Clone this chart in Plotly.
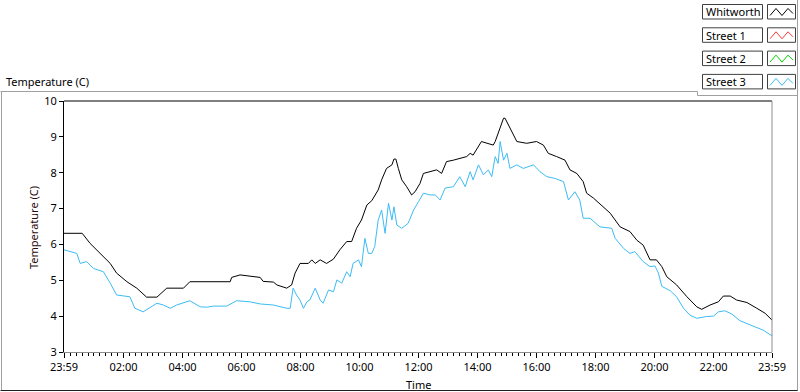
import plotly.graph_objects as go
from datetime import datetime, timedelta

# ---------------- data ----------------
series_names = ["Whitworth", "Street 1", "Street 2", "Street 3"]
series_colors = ["#000000", "#ff3a3a", "#00d800", "#3cbcf5"]

whitworth_times = [
    "23:59", "00:36", "00:52", "01:12", "01:33", "01:46", "02:07", "02:27", "02:47", "03:08",
    "03:28", "04:02", "04:15", "05:37", "05:40", "05:57", "06:38", "06:44", "07:05", "07:12",
    "07:32", "07:42", "07:49", "07:59", "08:16", "08:23", "08:30", "08:40", "08:53", "09:07",
    "09:20", "09:34", "09:44", "09:54", "10:04", "10:15", "10:25", "10:38", "10:45", "10:55",
    "11:06", "11:10", "11:14", "11:19", "11:26", "11:36", "11:46", "11:53", "12:03", "12:10",
    "12:27", "12:37", "12:47", "12:57", "13:11", "13:38", "13:45", "13:51", "14:08", "14:19",
    "14:32", "14:36", "14:46", "14:53", "14:56", "15:06", "15:20", "15:40", "16:00", "16:14",
    "16:24", "16:41", "16:58", "17:08", "17:22", "17:35", "17:42", "17:56", "18:16", "18:30",
    "18:50", "19:10", "19:24", "19:37", "19:51", "20:04", "20:15", "20:25", "20:45", "21:06",
    "21:26", "21:36", "21:53", "22:10", "22:20", "22:34", "22:47", "23:08", "23:28", "23:45",
    "23:59",
]
whitworth_temps = [
    6.31, 6.31, 6.03, 5.75, 5.47, 5.20, 4.96, 4.78, 4.53, 4.53,
    4.78, 4.78, 4.96, 4.96, 5.08, 5.15, 5.08, 4.97, 4.95, 4.87,
    4.78, 4.87, 5.20, 5.47, 5.47, 5.57, 5.47, 5.57, 5.47, 5.59,
    5.85, 6.08, 6.08, 6.45, 6.68, 7.10, 7.22, 7.52, 7.80, 8.12,
    8.22, 8.38, 8.38, 8.12, 7.80, 7.61, 7.38, 7.47, 7.70, 7.98,
    8.03, 8.08, 7.98, 8.31, 8.35, 8.45, 8.54, 8.49, 8.87, 8.82,
    8.77, 8.87, 9.24, 9.52, 9.52, 9.24, 8.87, 8.82, 8.87, 8.77,
    8.54, 8.45, 8.35, 8.08, 7.98, 7.75, 7.43, 7.29, 7.05, 6.87,
    6.49, 6.36, 6.12, 5.98, 5.57, 5.57, 5.38, 5.10, 4.87, 4.54,
    4.26, 4.19, 4.31, 4.40, 4.56, 4.56, 4.45, 4.38, 4.22, 4.08,
    3.89,
]

street1_times = []
street1_temps = []
street2_times = []
street2_temps = []

street3_times = [
    "23:59", "00:25", "00:32", "00:45", "00:59", "01:19", "01:33", "01:46", "02:13", "02:23",
    "02:40", "02:54", "03:08", "03:21", "03:35", "03:48", "04:15", "04:36", "04:49", "05:03",
    "05:30", "05:50", "06:17", "06:38", "07:05", "07:32", "07:39", "07:45", "07:52", "07:59",
    "08:06", "08:13", "08:19", "08:30", "08:40", "08:46", "08:57", "09:07", "09:14", "09:24",
    "09:34", "09:41", "09:47", "09:58", "10:04", "10:11", "10:18", "10:25", "10:31", "10:38",
    "10:45", "10:52", "10:59", "11:06", "11:10", "11:16", "11:26", "11:39", "11:50", "12:00",
    "12:10", "12:23", "12:34", "12:44", "12:54", "13:11", "13:24", "13:35", "13:45", "13:51",
    "14:02", "14:12", "14:22", "14:29", "14:36", "14:42", "14:46", "14:53", "15:00", "15:06",
    "15:20", "15:33", "15:54", "16:07", "16:21", "16:38", "16:55", "17:05", "17:18", "17:28",
    "17:35", "17:49", "18:09", "18:33", "18:40", "18:57", "19:10", "19:20", "19:37", "19:51",
    "20:01", "20:08", "20:15", "20:32", "20:45", "20:59", "21:12", "21:26", "21:46", "22:00",
    "22:10", "22:23", "22:37", "22:54", "23:14", "23:41", "23:59",
]
street3_temps = [
    5.85, 5.75, 5.47, 5.52, 5.33, 5.24, 4.92, 4.59, 4.54, 4.22,
    4.12, 4.25, 4.36, 4.31, 4.22, 4.31, 4.43, 4.26, 4.25, 4.28,
    4.28, 4.43, 4.40, 4.34, 4.31, 4.22, 4.22, 4.78, 4.59, 4.45,
    4.22, 4.40, 4.45, 4.78, 4.45, 4.36, 4.73, 4.68, 5.01, 4.92,
    5.24, 5.10, 5.47, 5.57, 5.38, 6.17, 5.75, 5.75, 5.94, 6.68,
    6.96, 6.31, 7.15, 6.68, 7.05, 6.54, 6.45, 6.59, 6.96, 7.19,
    7.43, 7.38, 7.38, 7.24, 7.57, 7.61, 7.89, 7.61, 8.03, 7.80,
    8.22, 7.94, 8.08, 7.89, 8.45, 8.26, 8.87, 8.35, 8.54, 8.12,
    8.22, 8.12, 8.22, 8.03, 7.89, 7.84, 7.75, 7.24, 7.47, 7.24,
    6.73, 6.73, 6.49, 6.45, 6.17, 5.89, 5.75, 5.80, 5.52, 5.38,
    5.40, 5.20, 4.83, 4.71, 4.54, 4.22, 4.03, 3.94, 3.99, 4.00,
    4.12, 4.15, 4.06, 3.87, 3.75, 3.61, 3.45,
]

tick_labels = ["23:59", "02:00", "04:00", "06:00", "08:00", "10:00", "12:00",
               "14:00", "16:00", "18:00", "20:00", "22:00", "23:59"]
y_range = [3, 10]


def to_dt(times):
    out = []
    for i, t in enumerate(times):
        hh, mm = map(int, t.split(":"))
        day = 1 if (i == 0 and t == "23:59") else 2
        out.append(datetime(2020, 1, day, hh, mm))
    return out


tick_vals = to_dt(tick_labels)

all_series = [
    (whitworth_times, whitworth_temps),
    (street1_times, street1_temps),
    (street2_times, street2_temps),
    (street3_times, street3_temps),
]

fig = go.Figure()
for name, color, (tt, vv) in zip(series_names, series_colors, all_series):
    fig.add_trace(go.Scatter(
        x=to_dt(tt), y=vv, mode="lines", name=name,
        line=dict(color=color, width=1), showlegend=False,
    ))

# ---------------- layout helpers (pixel -> paper) ----------------
L, R, T, B = 64, 28, 101, 40
W, H = 800, 392
PW, PH = W - L - R, H - T - B


def px(x):
    return (x - L) / PW


def py(y):
    return (H - B - y) / PH


FONT = "Noto Sans"
shapes = []
annotations = []

# plot top border (black) and right border (gray)
shapes.append(dict(type="line", xref="paper", yref="paper", x0=0, x1=1, y0=1, y1=1,
                   line=dict(color="#000000", width=1)))
shapes.append(dict(type="line", xref="paper", yref="paper", x0=1, x1=1, y0=0, y1=1,
                   line=dict(color="#8c8c8c", width=1)))

# outer chart frame
frame = [
    ((0.5, 91.5), (697.5, 91.5), "#a0a0a0"),
    ((697.5, 91.5), (697.5, 95.5), "#a0a0a0"),
    ((697.5, 95.5), (797.5, 95.5), "#a0a0a0"),
    ((1.5, 91.5), (1.5, 390.5), "#a0a0a0"),
    ((0.5, 390.5), (798, 390.5), "#202020"),
    ((797.5, 0), (797.5, 390.5), "#a0a0a0"),
]
for (x0, y0), (x1, y1), c in frame:
    shapes.append(dict(type="line", xref="paper", yref="paper",
                       x0=px(x0), y0=py(y0), x1=px(x1), y1=py(y1),
                       line=dict(color=c, width=1)))

# custom legend (LabVIEW style)
for i, (name, color) in enumerate(zip(series_names, series_colors)):
    top = 4.5 + i * 23.3
    bot = top + 14.5
    shapes.append(dict(type="rect", xref="paper", yref="paper",
                       x0=px(702.5), x1=px(762.5), y0=py(top), y1=py(bot),
                       line=dict(color="#404040", width=1), fillcolor="white"))
    shapes.append(dict(type="rect", xref="paper", yref="paper",
                       x0=px(767.5), x1=px(795.5), y0=py(top), y1=py(bot),
                       line=dict(color="#404040", width=1), fillcolor="white"))
    pts = [(770, top + 11), (776, top + 4), (782, top + 11), (788, top + 4), (793, top + 9)]
    path = "M " + " L ".join(f"{px(a):.5f},{py(b):.5f}" for a, b in pts)
    shapes.append(dict(type="path", xref="paper", yref="paper", path=path,
                       line=dict(color=color, width=1)))
    annotations.append(dict(text=name, xref="paper", yref="paper",
                            x=px(704), y=py((top + bot) / 2), xanchor="left", yanchor="middle",
                            showarrow=False, font=dict(family=FONT, size=11, color="#000000")))

# chart label top-left
annotations.append(dict(text="Temperature (C)", xref="paper", yref="paper",
                        x=px(4), y=py(81), xanchor="left", yanchor="middle", showarrow=False,
                        font=dict(family=FONT, size=11, color="#000000")))
# y axis title
annotations.append(dict(text="Temperature (C)", xref="paper", yref="paper",
                        x=px(33), y=py(228), xanchor="center", yanchor="middle", textangle=-90,
                        showarrow=False, font=dict(family=FONT, size=11, color="#2a0a0a")))
# x axis title
annotations.append(dict(text="Time", xref="paper", yref="paper",
                        x=px(418), y=py(384), xanchor="center", yanchor="middle",
                        showarrow=False, font=dict(family=FONT, size=11, color="#000000")))

fig.update_layout(
    width=W, height=H,
    margin=dict(l=L, r=R, t=T, b=B),
    paper_bgcolor="white", plot_bgcolor="white",
    font=dict(family=FONT, size=11, color="#000000"),
    shapes=shapes, annotations=annotations, showlegend=False,
    xaxis=dict(
        type="date", range=[tick_vals[0], tick_vals[-1]],
        tickmode="array", tickvals=tick_vals, ticktext=tick_labels,
        ticks="outside", ticklen=5, tickcolor="#000000", tickwidth=1,
        showline=True, linecolor="#8c8c8c", linewidth=1,
        showgrid=False, zeroline=False,
        minor=dict(ticks="outside", ticklen=3, tickcolor="#000000",
                   tick0="2020-01-02 00:00", dtick=12 * 60 * 1000, showgrid=False),
        tickfont=dict(family=FONT, size=11, color="#000000"),
    ),
    yaxis=dict(
        range=y_range, dtick=1, tick0=3,
        ticks="outside", ticklen=4, tickcolor="#000000", tickwidth=1,
        showline=True, linecolor="#000000", linewidth=1,
        showgrid=False, zeroline=False,
        tickfont=dict(family=FONT, size=11, color="#000000"),
    ),
)

fig.write_html(
    "out.html",
    config={"displayModeBar": False},
    post_script="document.body.style.margin='0';document.body.style.overflow='hidden';",
)
